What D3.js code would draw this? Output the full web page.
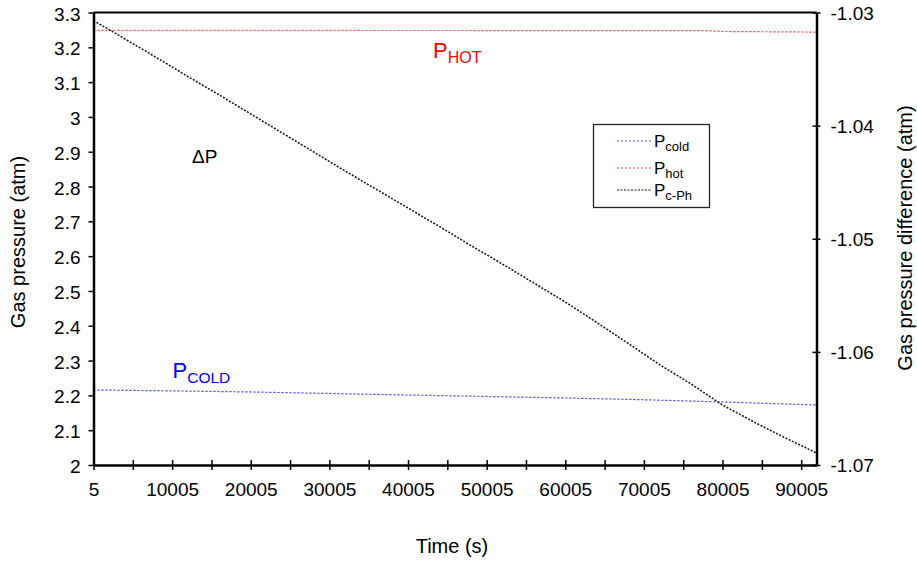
<!DOCTYPE html>
<html><head><meta charset="utf-8">
<script src="https://cdn.jsdelivr.net/npm/d3@7"></script>
<style>body{margin:0;background:#fff}svg{font-family:"Liberation Sans",Arial,sans-serif}</style>
</head><body><svg id="c" width="917" height="562"></svg>
<script>
// Data
const xTickValues = [5,10005,20005,30005,40005,50005,60005,70005,80005,90005];
const leftTicks = [2,2.1,2.2,2.3,2.4,2.5,2.6,2.7,2.8,2.9,3,3.1,3.2,3.3];
const rightTicks = [-1.07,-1.06,-1.05,-1.04,-1.03];
const diffTimes = [5,4005,8005,12005,16005,20005,24005,28005,32005,36005,40005,44005,48005,52005,56005,60005,64005,68005,72005,76005,80005,84005,88005,91955];
const diffValues = [-1.03071,-1.03234,-1.03398,-1.03566,-1.03729,-1.03897,-1.04065,-1.04233,-1.04401,-1.04565,-1.04728,-1.04892,-1.05060,-1.05223,-1.05391,-1.05559,-1.05740,-1.05925,-1.06113,-1.06284,-1.06470,-1.06620,-1.06761,-1.06894];
const coldTimes = [5,10005,20005,30005,40005,50005,60005,70005,80005,91955];
const coldValues = [2.2155,2.2130,2.2098,2.2055,2.2010,2.1970,2.1925,2.1875,2.1810,2.1724];
const hotTimes = [5,10005,20005,30005,40005,50005,60005,70005,78005,80005,91955];
const hotValues = [3.2485,3.2485,3.2484,3.2484,3.2483,3.2482,3.2481,3.2480,3.2478,3.2455,3.2437];

const svg = d3.select("#c");
const L=93.5, R=816.5, T=12.5, B=465;
const x = d3.scaleLinear().domain([5,91955]).range([L,R]);
const yL = d3.scaleLinear().domain([2,3.3]).range([B,T]);
const yR = d3.scaleLinear().domain([-1.07,-1.03]).range([B,T]);

// data lines
const mk = (ys)=>d3.line().x(d=>x(d[0])).y(d=>ys(d[1]));
svg.append("path").datum(hotTimes.map((t,i)=>[t,hotValues[i]]))
  .attr("d",mk(yL)).attr("fill","none").attr("stroke","#ff3b3b").attr("stroke-width",1.2).attr("stroke-dasharray","2,2");
svg.append("path").datum(coldTimes.map((t,i)=>[t,coldValues[i]]))
  .attr("d",mk(yL)).attr("fill","none").attr("stroke","#3b3bff").attr("stroke-width",1.2).attr("stroke-dasharray","2,2");
svg.append("path").datum(diffTimes.map((t,i)=>[t,diffValues[i]]))
  .attr("d",mk(yR)).attr("fill","none").attr("stroke","#111").attr("stroke-width",1.5).attr("stroke-dasharray","2,1.5");

// frame
svg.append("line").attr("x1",L).attr("x2",R).attr("y1",T).attr("y2",T).attr("stroke","#000").attr("stroke-width",2);

// axes
const fs = "19px";
const gx = svg.append("g").attr("transform",`translate(0,${B})`)
  .call(d3.axisBottom(x).tickValues(d3.range(5,91956,5000)).tickSizeInner(5).tickSizeOuter(0)
    .tickFormat(d=> xTickValues.includes(d)? String(d):""));
gx.selectAll(".tick line").attr("y1",-5).attr("stroke-width",1.5);
gx.select(".domain").attr("stroke-width",2.5);
gx.selectAll("text").attr("font-size",fs).attr("dy","1.2em").attr("fill","#000");

const gl = svg.append("g").attr("transform",`translate(${L},0)`)
  .call(d3.axisLeft(yL).tickValues(leftTicks).tickSizeInner(5).tickSizeOuter(0).tickFormat(d3.format("")));
gl.selectAll(".tick line").attr("stroke-width",1.5);
gl.select(".domain").attr("stroke-width",2.5);
gl.selectAll("text").attr("font-size",fs).attr("x",-13).attr("dy","0.4em").attr("fill","#000");

const gr = svg.append("g").attr("transform",`translate(${R},0)`)
  .call(d3.axisRight(yR).tickValues(rightTicks).tickSizeInner(4).tickSizeOuter(0).tickFormat(d3.format(".2f")));
gr.selectAll(".tick line").attr("x1",-4).attr("stroke-width",1.5);
gr.select(".domain").attr("stroke-width",2.5);
gr.selectAll("text").attr("font-size",fs).attr("x",14).attr("dy","0.36em").attr("fill","#000")
  .text(d=>d3.format(".2f")(d).replace("\u2212","-"));

// axis titles
svg.append("text").attr("x",452).attr("y",553).attr("text-anchor","middle").attr("font-size","20px").text("Time (s)");
svg.append("text").attr("transform","translate(25,242) rotate(-90)").attr("text-anchor","middle").attr("font-size","20px").text("Gas pressure (atm)");
svg.append("text").attr("transform","translate(912,238) rotate(-90)").attr("text-anchor","middle").attr("font-size","20px").text("Gas pressure difference (atm)");

// annotations
function sub(xp,yp,main,s,color,f1,f2){
  const t=svg.append("text").attr("x",xp).attr("y",yp).attr("fill",color).attr("font-size",f1);
  t.append("tspan").text(main);
  t.append("tspan").attr("font-size",f2).attr("dy",5).text(s);
}
sub(433,57.5,"P","HOT","#ff0000","22px","16px");
sub(172.5,378,"P","COLD","#0000ff","22px","15.5px");
svg.append("text").attr("x",192).attr("y",163).attr("font-size","19px").text("\u0394P");

// legend
svg.append("rect").attr("x",593.5).attr("y",124.5).attr("width",116).attr("height",83).attr("fill","#fff").attr("stroke","#222").attr("stroke-width",1.3);
const legend=[["cold","#5050ff",141,"2,2"],["hot","#ff4040",168,"2,2"],["c-Ph","#111",190,"2,1.5"]];
legend.forEach(([s,c,yy,da])=>{
  svg.append("line").attr("x1",617).attr("x2",652).attr("y1",yy).attr("y2",yy).attr("stroke",c).attr("stroke-width",1).attr("stroke-dasharray",da);
  const t=svg.append("text").attr("x",654).attr("y",yy+6).attr("font-size","17px");
  t.append("tspan").text("P");
  t.append("tspan").attr("font-size","13px").attr("dy",3.5).text(s);
});
</script></body></html>
